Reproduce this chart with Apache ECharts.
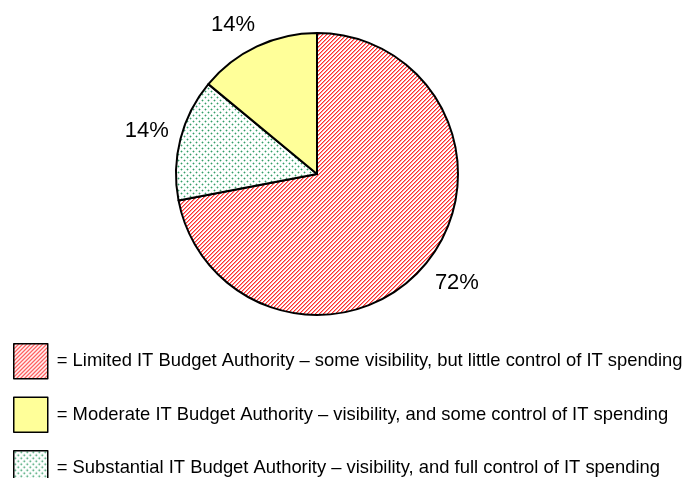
<!DOCTYPE html>
<html><head><meta charset="utf-8">
<script src="https://cdn.jsdelivr.net/npm/echarts@6/dist/echarts.min.js"></script>
<style>html,body{margin:0;padding:0;background:#fff}#c{width:686px;height:478px}</style>
</head><body><div id="c"></div>
<script>
const categories = [
  '= Limited IT Budget Authority \u2013 some visibility, but little control of IT spending',
  '= Substantial IT Budget Authority \u2013 visibility, and full control of IT spending',
  '= Moderate IT Budget Authority \u2013 visibility, and some control of IT spending'
];
const values = [72, 14, 14];
const legendOrder = [categories[0], categories[2], categories[1]];

const CX = 317, CY = 174, R = 141, LABEL_GAP = 12;

function makeTile(w, h, painter) {
  const c = document.createElement('canvas');
  c.width = w; c.height = h;
  const ctx = c.getContext('2d');
  const img = ctx.createImageData(w, h);
  for (let y = 0; y < h; y++) for (let x = 0; x < w; x++) {
    const col = painter(x, y);
    const i = (y * w + x) * 4;
    img.data[i] = col[0]; img.data[i+1] = col[1]; img.data[i+2] = col[2]; img.data[i+3] = 255;
  }
  ctx.putImageData(img, 0, 0);
  return c;
}
const hatch = makeTile(4, 4, (x, y) => {
  const k = (x + y) % 4;
  if (k === 0) return [255, 45, 45];
  if (k === 1) return [255, 150, 150];
  return [255, 255, 255];
});
const dots = makeTile(6, 6, (x, y) => {
  if ((x === 1 && y === 1) || (x === 4 && y === 4)) return [55, 155, 105];
  if ((Math.abs(x-1)+Math.abs(y-1) === 1) || (Math.abs(x-4)+Math.abs(y-4) === 1)) return [180, 222, 200];
  return [255, 255, 255];
});
const fills = [
  { image: hatch, repeat: 'repeat' },
  { image: dots, repeat: 'repeat' },
  '#ffff99'
];

const total = values.reduce((a, b) => a + b, 0);
function midAngle(i) {
  let before = 0;
  for (let k = 0; k < i; k++) before += values[k];
  return (before + values[i] / 2) / total * 2 * Math.PI;
}
const clamp = v => Math.max(-1, Math.min(1, v));

const chart = echarts.init(document.getElementById('c'), null, { renderer: 'canvas' });
chart.setOption({
  animation: false,
  textStyle: { fontFamily: '"Liberation Sans", Arial, sans-serif' },
  legend: {
    data: legendOrder,
    orient: 'vertical',
    left: 13, top: 343, height: 200, padding: 0,
    itemWidth: 34, itemHeight: 35, itemGap: 17,
    icon: 'rect',
    itemStyle: { borderColor: '#000', borderWidth: 1.5 },
    textStyle: { fontSize: 18.4, color: '#000', fontFamily: '"Liberation Sans", Arial, sans-serif', padding: [0, 0, 0, 4] },
    selectedMode: false
  },
  series: [{
    type: 'pie',
    center: [CX, CY],
    radius: R,
    startAngle: 90,
    clockwise: true,
    avoidLabelOverlap: false,
    itemStyle: { borderColor: '#000', borderWidth: 2 },
    label: {
      show: true, position: 'outside', formatter: '{d}%',
      fontSize: 22, color: '#000', fontFamily: '"Liberation Sans", Arial, sans-serif'
    },
    labelLine: { show: false },
    labelLayout: function (p) {
      const a = midAngle(p.dataIndex);
      const s = Math.sin(a), c = Math.cos(a);
      const w = p.labelRect.width, h = p.labelRect.height;
      const r = R + LABEL_GAP;
      return {
        x: CX + r * s + clamp(2 * s) * w / 2,
        y: CY - r * c + clamp(-2 * c) * h / 2,
        align: 'center', verticalAlign: 'middle'
      };
    },
    emphasis: { disabled: true },
    data: categories.map((n, i) => ({ name: n, value: values[i], itemStyle: { color: fills[i] } }))
  }]
});
</script></body></html>
